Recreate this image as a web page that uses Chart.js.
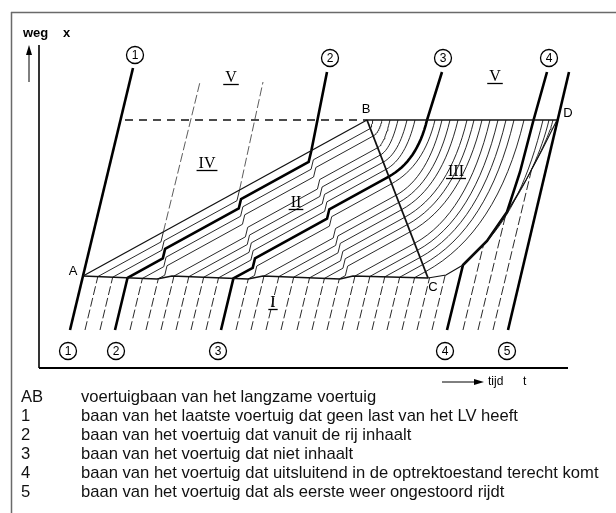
<!DOCTYPE html>
<html>
<head>
<meta charset="utf-8">
<script src="https://cdn.jsdelivr.net/npm/chart.js@4.4.1/dist/chart.umd.min.js"></script>
<style>
  html, body { margin: 0; padding: 0; background: #fff; }
  #wrap { position: relative; width: 616px; height: 513px; overflow: hidden; }
  #diagram { position: absolute; left: 0; top: 0; }
  .row { position: absolute; left: 0; white-space: nowrap; height: 19px; line-height: 19px;
         font: 16.6px "Liberation Sans", Arial, sans-serif; color: #111; }
  .key { position: absolute; left: 21px; }
  .txt { position: absolute; left: 81px; }
</style>
</head>
<body>
<div id="wrap">
  <canvas id="diagram" width="616" height="513"></canvas>
  <div id="legend"></div>
</div>
<script>
// time-space diagram: t = tijd (horizontal), x = weg (vertical), arbitrary units
const tRange = [0, 529];
const xRange = [0, 323];

const pointA = [44, 92];
const pointB = [328, 248];
const pointC = [389, 90];
const pointD = [518, 248];
const dashStartT = 86;

// tail of the queue A..C (small jumps where an overtaker leaves)
const tailLine = [[44, 92], [118, 89], [133, 92], [209, 89], [224, 92], [301, 89], [314, 92], [389, 90]];
// vehicle that accelerates from C, ends in D
const releaseCurve = [[389, 90], [407, 93], [424, 103], [448, 127], [468, 156], [487, 188], [503, 218], [518, 248]];

const traj1 = [[31, 38], [94, 300]];
const traj4 = [[408, 38], [424, 103], [448, 127], [468, 156], [481, 196], [494, 246], [508, 296]];
const traj5 = [[469, 38], [530, 296]];
const traj3Top = [403, 296];

// overtakers leave the platoon: t on AB (top) and t on the tail (foot) of each step column
const stepTopT = [121, 196, 267];
const stepFootT = [126, 216, 307];
const exitTop = [[161, 286], [224, 286], [288, 296]];

// free-flow trajectories: t where they start at the bottom (x = startX)
const startX = 38;
const freeStartT = [46, 61, 76, 91, 107, 122, 137, 152, 167, 182, 197, 212, 227, 242, 258, 273,
                    288, 303, 318, 333, 348, 363, 378, 393, 424, 439, 454];
const traj2Index = 2;
const traj3Index = 9;
// t where the accelerating vehicles reach the level B-D
const releaseTopT = [334, 343, 351, 359, 368, 376, 388, 396, 403, 411, 419, 428, 435, 443, 451, 459, 467, 475, 485];
// t where the last caught-up vehicles reach B-D
const fanTopT = [504, 510, 514];

const circleLabels = [['1', 96, 313], ['2', 291, 310], ['3', 404, 310], ['4', 510, 310],
                      ['1', 29, 17], ['2', 77, 17], ['3', 179, 17], ['4', 406, 17], ['5', 468, 17]];
const pointLabels = [['A', 34, 97], ['B', 327, 259], ['C', 394, 81], ['D', 529, 255]];
const zoneLabels = [['V', 192, 290], ['IV', 168, 204], ['V', 456, 291], ['III', 417, 196], ['II', 257, 165], ['I', 234, 65]];

const legendKeys = ['AB', '1', '2', '3', '4', '5'];
const legendTexts = [
  'voertuigbaan van het langzame voertuig',
  'baan van het laatste voertuig dat geen last van het LV heeft',
  'baan van het voertuig dat vanuit de rij inhaalt',
  'baan van het voertuig dat niet inhaalt',
  'baan van het voertuig dat uitsluitend in de optrektoestand terecht komt',
  'baan van het voertuig dat als eerste weer ongestoord rijdt'
];

// geometry helpers
const vFree = (traj1[1][0] - traj1[0][0]) / (traj1[1][1] - traj1[0][1]);
const mAB = (pointB[1] - pointA[1]) / (pointB[0] - pointA[0]);
const headway = (freeStartT[1] - freeStartT[0]) * mAB;

function cross(ax, ay, bx, by) { return ax * by - ay * bx; }

function rayHit(p, r, a, b, uMin, uMax) {
  const e = [b[0] - a[0], b[1] - a[1]];
  const den = cross(r[0], r[1], e[0], e[1]);
  if (Math.abs(den) < 1e-9) return null;
  const w = [a[0] - p[0], a[1] - p[1]];
  const s = cross(w[0], w[1], e[0], e[1]) / den;
  const u = cross(w[0], w[1], r[0], r[1]) / den;
  if (s <= 1e-6 || u < uMin || u > uMax) return null;
  return { s: s, pt: [p[0] + s * r[0], p[1] + s * r[1]], dir: e };
}

function firstHit(p, r, poly) {
  let best = null;
  for (let i = 0; i < poly.length - 1; i++) {
    const h = rayHit(p, r, poly[i], poly[i + 1], -1e-6, 1 + 1e-6);
    if (h && (!best || h.s < best.s)) best = h;
  }
  return best;
}

function abX(t) { return pointA[1] + mAB * (t - pointA[0]); }

function tailX(t) {
  for (let i = 0; i < tailLine.length - 1; i++) {
    const a = tailLine[i], b = tailLine[i + 1];
    if (t >= a[0] && t <= b[0]) return a[1] + (b[1] - a[1]) * (t - a[0]) / (b[0] - a[0]);
  }
  return tailLine[tailLine.length - 1][1];
}

// quadratic curve from p (leaving along dp) to q (arriving along dq)
function bend(p, dp, q, dq, n) {
  const den = cross(dp[0], dp[1], dq[0], dq[1]);
  let k = [(p[0] + q[0]) / 2, (p[1] + q[1]) / 2];
  if (Math.abs(den) > 1e-9) {
    const w = [q[0] - p[0], q[1] - p[1]];
    const s = cross(w[0], w[1], dq[0], dq[1]) / den;
    if (s > 0) k = [p[0] + s * dp[0], p[1] + s * dp[1]];
  }
  const out = [];
  for (let i = 1; i <= n; i++) {
    const u = i / n, a = (1 - u) * (1 - u), b = 2 * u * (1 - u), c = u * u;
    out.push([a * p[0] + b * k[0] + c * q[0], a * p[1] + b * k[1] + c * q[1]]);
  }
  return out;
}

function buildVehicle(t0) {
  const start = [t0, startX];
  const pts = [start];
  const dir = [vFree, 1];
  const hitTail = firstHit(start, dir, tailLine);
  const hitRel = firstHit(start, dir, releaseCurve);
  if (!hitTail || (hitRel && hitRel.s < hitTail.s)) {
    pts.push(hitRel.pt);
    return { pts: pts, kind: 'release', end: hitRel.pt, dir: hitRel.dir };
  }
  let cur = hitTail.pt;
  pts.push(cur);
  let d = abX(cur[0]) - cur[1];
  for (let j = 0; j < stepTopT.length; j++) {
    const top = [stepTopT[j], abX(stepTopT[j])];
    const foot = [stepFootT[j], tailX(stepFootT[j])];
    const h = rayHit(cur, [1, mAB], top, foot, -0.05, 1.15);
    if (!h) continue;
    pts.push(h.pt);
    if (d - headway < headway / 2) {
      const rise = d / (1 - mAB * vFree);
      const out = [h.pt[0] + vFree * rise, h.pt[1] + rise];
      pts.push(out);
      return { pts: pts, kind: 'overtake', column: j, end: out };
    }
    const rise = headway / (1 - mAB * vFree);
    cur = [h.pt[0] + vFree * rise, h.pt[1] + rise];
    pts.push(cur);
    d -= headway;
  }
  const hb = rayHit(cur, [1, mAB], pointB, pointC, -0.05, 1.05);
  pts.push(hb.pt);
  return { pts: pts, kind: 'queue', end: hb.pt };
}

const vehicles = freeStartT.map(buildVehicle);

const queued = vehicles.filter(v => v.kind === 'queue').sort((a, b) => b.end[1] - a.end[1]);
queued.forEach((v, i) => {
  v.pts.push(...bend(v.end, [1, mAB], [releaseTopT[i], pointB[1]], [vFree, 1], 16));
});
const caught = vehicles.filter(v => v.kind === 'release');
caught.slice(caught.length - fanTopT.length).forEach((v, i) => {
  v.pts.push(...bend(v.end, v.dir, [fanTopT[i], pointD[1]], [vFree, 1], 16));
});

// datasets
const datasets = [];
function addLine(points, style) {
  datasets.push(Object.assign({
    data: points.map(p => ({ x: p[0], y: p[1] })),
    showLine: true, pointRadius: 0, borderColor: '#111', borderWidth: 1,
    fill: false, clip: false, tension: 0
  }, style));
}

vehicles.forEach((v, i) => {
  if (i === traj2Index || i === traj3Index) return;
  addLine(v.pts, {
    borderWidth: 0.9,
    segment: { borderDash: ctx => (ctx.p0DataIndex === 0 ? [9, 3] : undefined) }
  });
  if (v.kind === 'overtake' && v.column < 2) {
    addLine([v.end, exitTop[v.column]], { borderWidth: 0.8, borderColor: '#333', borderDash: [9, 3] });
  }
});

addLine([pointA, pointB], { borderWidth: 1.3 });
addLine([pointB, pointC], { borderWidth: 1.8 });
addLine(tailLine, { borderWidth: 1.3 });
addLine([pointB, pointD], { borderWidth: 1.3 });
addLine([[dashStartT, pointB[1]], pointB], { borderWidth: 1.3, borderDash: [8, 6] });
addLine(releaseCurve, { borderWidth: 1.1 });

const thick = { borderWidth: 2.6, borderColor: '#000' };
addLine(traj1, thick);
const v2 = vehicles[traj2Index];
addLine(v2.pts.concat([exitTop[v2.kind === 'overtake' ? v2.column : 2]]), thick);
addLine(vehicles[traj3Index].pts.concat([traj3Top]), thick);
addLine(traj4, thick);
addLine(traj5, thick);

// frame, axes and labels
const decorations = {
  id: 'decorations',
  afterDatasetsDraw(chart) {
    const ctx = chart.ctx, area = chart.chartArea;
    const X = v => chart.scales.x.getPixelForValue(v);
    const Y = v => chart.scales.y.getPixelForValue(v);
    ctx.save();
    ctx.lineCap = 'butt';

    ctx.strokeStyle = '#6a6a6a';
    ctx.lineWidth = 1.5;
    ctx.beginPath();
    ctx.moveTo(11, 12.5); ctx.lineTo(chart.width, 12.5);
    ctx.moveTo(11.5, 12); ctx.lineTo(11.5, chart.height);
    ctx.stroke();

    ctx.strokeStyle = '#000';
    ctx.lineWidth = 1.6;
    ctx.beginPath();
    ctx.moveTo(area.left, area.top); ctx.lineTo(area.left, area.bottom);
    ctx.stroke();
    ctx.lineWidth = 2.2;
    ctx.beginPath();
    ctx.moveTo(area.left, area.bottom); ctx.lineTo(area.right, area.bottom);
    ctx.stroke();

    // axis arrows
    ctx.fillStyle = '#000';
    ctx.lineWidth = 1;
    const ax = X(-10);
    ctx.beginPath(); ctx.moveTo(ax, Y(286)); ctx.lineTo(ax, Y(316)); ctx.stroke();
    ctx.beginPath(); ctx.moveTo(ax, Y(323)); ctx.lineTo(ax - 3, Y(313)); ctx.lineTo(ax + 3, Y(313)); ctx.closePath(); ctx.fill();
    const ay = Y(-14);
    ctx.beginPath(); ctx.moveTo(X(403), ay); ctx.lineTo(X(437), ay); ctx.stroke();
    ctx.beginPath(); ctx.moveTo(X(445), ay); ctx.lineTo(X(435), ay - 3); ctx.lineTo(X(435), ay + 3); ctx.closePath(); ctx.fill();

    ctx.textBaseline = 'middle';
    ctx.textAlign = 'left';
    ctx.font = 'bold 13px "Liberation Sans", Arial, sans-serif';
    ctx.fillText('weg', X(-16), Y(335));
    ctx.fillText('x', X(24), Y(335));
    ctx.font = '12px "Liberation Sans", Arial, sans-serif';
    ctx.fillText('tijd', X(449), ay);
    ctx.fillText('t', X(484), ay);

    ctx.textAlign = 'center';
    ctx.font = '13px "Liberation Sans", Arial, sans-serif';
    pointLabels.forEach(([s, t, x]) => ctx.fillText(s, X(t), Y(x)));

    ctx.font = '12px "Liberation Sans", Arial, sans-serif';
    ctx.lineWidth = 1.3;
    circleLabels.forEach(([s, t, x]) => {
      ctx.beginPath();
      ctx.arc(X(t), Y(x), 8.5, 0, Math.PI * 2);
      ctx.stroke();
      ctx.fillText(s, X(t), Y(x) + 0.5);
    });

    ctx.font = '16px "Liberation Serif", "Times New Roman", serif';
    ctx.lineWidth = 1.3;
    zoneLabels.forEach(([s, t, x]) => {
      const w = ctx.measureText(s).width;
      ctx.fillText(s, X(t), Y(x));
      ctx.beginPath();
      ctx.moveTo(X(t) - w / 2 - 2, Y(x) + 6.5);
      ctx.lineTo(X(t) + w / 2 + 2, Y(x) + 6.5);
      ctx.stroke();
    });
    ctx.restore();
  }
};

new Chart(document.getElementById('diagram'), {
  type: 'scatter',
  data: { datasets: datasets },
  options: {
    responsive: false,
    animation: false,
    devicePixelRatio: 1,
    events: [],
    layout: { padding: { left: 39, top: 45, right: 48, bottom: 145 } },
    scales: {
      x: { type: 'linear', min: tRange[0], max: tRange[1], display: false },
      y: { type: 'linear', min: xRange[0], max: xRange[1], display: false }
    },
    plugins: { legend: { display: false }, tooltip: { enabled: false } }
  },
  plugins: [decorations]
});

// legend rows below the diagram
const legend = document.getElementById('legend');
legendKeys.forEach((k, i) => {
  const row = document.createElement('div');
  row.className = 'row';
  row.style.top = (387 + 19 * i) + 'px';
  row.innerHTML = '<span class="key"></span><span class="txt"></span>';
  row.children[0].textContent = k;
  row.children[1].textContent = legendTexts[i];
  legend.appendChild(row);
});
</script>
</body>
</html>
